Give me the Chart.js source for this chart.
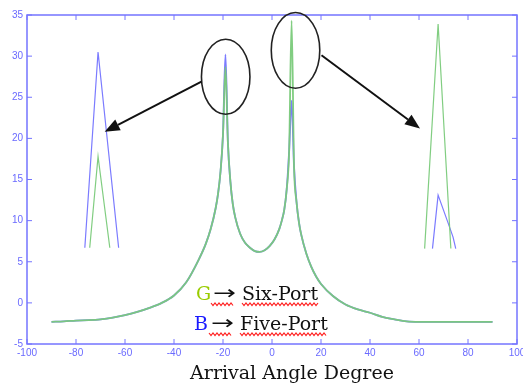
<!DOCTYPE html>
<html>
<head>
<meta charset="utf-8">
<script src="https://cdn.jsdelivr.net/npm/chart.js@4/dist/chart.umd.min.js"></script>
<style>
    html, body { margin: 0; padding: 0; background: #ffffff; }
    canvas { display: block; }
</style>
</head>
<body>
<canvas id="grafico" width="523" height="385"></canvas>
<script>
// =====================================================
// DADOS DO GRÁFICO
// =====================================================

const angulos = [-90, -85, -80, -75, -70, -65, -60, -55, -50, -45, -40, -35, -30, -27, -25, -23, -22, -21, -20, -19,
    -18, -17, -16, -15, -13, -11, -9, -7, -5, -3, -1, 1, 3, 4, 5, 6, 7, 8, 9, 10,
    11, 12, 14, 16, 18, 20, 25, 30, 35, 40, 45, 50, 55, 60, 65, 70, 75, 80, 85, 90];

// G -> Six-Port
const espectroSeisPortas = [-2.3, -2.25, -2.15, -2.1, -2.0, -1.8, -1.5, -1.1, -0.6, 0.0, 0.9, 2.5, 5.2, 7.2, 9.0, 11.5, 13.3, 16.0, 20.5, 28.7,
    19.5, 14.8, 12.0, 10.4, 8.4, 7.3, 6.7, 6.3, 6.2, 6.4, 6.9, 7.7, 9.0, 10.0, 11.3, 13.8, 18.5, 34.3, 16.5, 12.3,
    9.8, 8.2, 6.0, 4.4, 3.2, 2.3, 0.8, -0.2, -0.8, -1.2, -1.7, -2.0, -2.25, -2.3, -2.3, -2.3, -2.3, -2.3, -2.3, -2.3];

// B -> Five-Port
const espectroCincoPortas = [-2.3, -2.25, -2.15, -2.1, -2.0, -1.8, -1.5, -1.1, -0.6, 0.0, 0.9, 2.5, 5.2, 7.2, 9.0, 11.5, 13.3, 16.0, 20.5, 30.2,
    19.5, 14.8, 12.0, 10.4, 8.4, 7.3, 6.7, 6.3, 6.2, 6.4, 6.9, 7.7, 9.0, 10.0, 11.3, 13.8, 18.5, 24.6, 16.5, 12.3,
    9.8, 8.2, 6.0, 4.4, 3.2, 2.3, 0.8, -0.2, -0.8, -1.2, -1.7, -2.0, -2.25, -2.3, -2.3, -2.3, -2.3, -2.3, -2.3, -2.3];

// Ampliações dos picos (esquerda: pico em -19, direita: pico em 8)
const zoomEsqCincoX = [-76.4, -71, -62.6];
const zoomEsqCincoY = [6.7, 30.5, 6.7];
const zoomEsqSeisX = [-74.4, -71, -66.2];
const zoomEsqSeisY = [6.7, 17.8, 6.7];
const zoomDirSeisX = [62.3, 67.8, 73];
const zoomDirSeisY = [6.6, 33.9, 6.6];
const zoomDirCincoX = [65.5, 67.8, 71.9, 73.9, 75];
const zoomDirCincoY = [6.6, 13.1, 9.7, 8.0, 6.6];

const ticksX = [-100, -80, -60, -40, -20, 0, 20, 40, 60, 80, 100];
const ticksY = [-5, 0, 5, 10, 15, 20, 25, 30, 35];

// Anotações (centro x, centro y, raio x, raio y) em unidades do gráfico
const elipses = [
    [-18.9, 27.5, 9.9, 4.56],
    [9.6, 30.7, 9.9, 4.6]
];
// Setas (x0, y0, x1, y1) em unidades do gráfico
const setas = [
    [-28.8, 26.9, -68.3, 20.8],
    [20.2, 30.1, 60.4, 21.2]
];

// =====================================================
// CONFIGURAÇÕES
// =====================================================

const CORES = {
    verde: 'rgba(122, 202, 122, 0.95)',
    azul: '#7b7bff',
    eixo: '#7474ff',
    rotulo: '#6a6aff'
};

function juntar(xs, ys) {
    return xs.map((x, i) => ({ x: x, y: ys[i] }));
}

function serie(xs, ys, cor, largura, ordem, suave) {
    return {
        data: juntar(xs, ys),
        showLine: true,
        borderColor: cor,
        borderWidth: largura,
        pointRadius: 0,
        fill: false,
        order: ordem,
        cubicInterpolationMode: suave ? 'monotone' : 'default',
        tension: 0
    };
}

/**
 * Desenha eixos, ticks, anotações e textos
 */
const pluginDecoracao = {
    id: 'decoracao',
    afterDraw(chart) {
        const ctx = chart.ctx;
        const a = chart.chartArea;
        const sx = chart.scales.x;
        const sy = chart.scales.y;

        ctx.save();

        // caixa do eixo
        ctx.strokeStyle = CORES.eixo;
        ctx.lineWidth = 1.5;
        ctx.strokeRect(a.left, a.top, a.right - a.left, a.bottom - a.top);

        // ticks internos (estilo MATLAB)
        ctx.lineWidth = 1;
        ctx.beginPath();
        ticksX.forEach(v => {
            const px = sx.getPixelForValue(v);
            ctx.moveTo(px, a.bottom); ctx.lineTo(px, a.bottom - 5);
            ctx.moveTo(px, a.top); ctx.lineTo(px, a.top + 5);
        });
        ticksY.forEach(v => {
            const py = sy.getPixelForValue(v);
            ctx.moveTo(a.left, py); ctx.lineTo(a.left + 5, py);
            ctx.moveTo(a.right, py); ctx.lineTo(a.right - 5, py);
        });
        ctx.stroke();

        // rótulos dos ticks
        ctx.fillStyle = CORES.rotulo;
        ctx.font = '10px "Liberation Sans", Arial, sans-serif';
        ctx.textAlign = 'center';
        ctx.textBaseline = 'middle';
        ticksX.forEach(v => {
            ctx.fillText(String(v), sx.getPixelForValue(v), a.bottom + 9);
        });
        ctx.textAlign = 'right';
        ticksY.forEach(v => {
            ctx.fillText(String(v), a.left - 4, sy.getPixelForValue(v));
        });

        // elipses
        ctx.strokeStyle = '#222222';
        ctx.lineWidth = 1.6;
        elipses.forEach(e => {
            const cx = sx.getPixelForValue(e[0]);
            const cy = sy.getPixelForValue(e[1]);
            const rx = Math.abs(sx.getPixelForValue(e[0] + e[2]) - cx);
            const ry = Math.abs(sy.getPixelForValue(e[1] + e[3]) - cy);
            ctx.beginPath();
            ctx.ellipse(cx, cy, rx, ry, 0, 0, Math.PI * 2);
            ctx.stroke();
        });

        // setas
        setas.forEach(s => {
            const x0 = sx.getPixelForValue(s[0]);
            const y0 = sy.getPixelForValue(s[1]);
            const x1 = sx.getPixelForValue(s[2]);
            const y1 = sy.getPixelForValue(s[3]);
            desenharSeta(ctx, x0, y0, x1, y1);
        });

        // legenda manual
        desenharLegenda(ctx, 'G', '#99cc00', 'Six-Port', 196, 300);
        desenharLegenda(ctx, 'B', '#1a1aff', 'Five-Port', 194, 330);

        // título do eixo x
        ctx.fillStyle = '#111111';
        ctx.font = '19px "DejaVu Serif", serif';
        ctx.textAlign = 'center';
        ctx.textBaseline = 'alphabetic';
        ctx.fillText('Arrival Angle Degree', 292, 379);

        ctx.restore();
    }
};

function desenharSeta(ctx, x0, y0, x1, y1) {
    const ang = Math.atan2(y1 - y0, x1 - x0);
    const comp = 15;
    const larg = 6;
    const bx = x1 - comp * Math.cos(ang);
    const by = y1 - comp * Math.sin(ang);
    ctx.strokeStyle = '#111111';
    ctx.fillStyle = '#111111';
    ctx.lineWidth = 2;
    ctx.beginPath();
    ctx.moveTo(x0, y0);
    ctx.lineTo(bx, by);
    ctx.stroke();
    ctx.beginPath();
    ctx.moveTo(x1, y1);
    ctx.lineTo(bx + larg * Math.sin(ang), by - larg * Math.cos(ang));
    ctx.lineTo(bx - larg * Math.sin(ang), by + larg * Math.cos(ang));
    ctx.closePath();
    ctx.fill();
}

function ondulado(ctx, xIni, xFim, y) {
    ctx.beginPath();
    let alto = true;
    ctx.moveTo(xIni, y);
    for (let x = xIni + 2; x <= xFim; x += 2) {
        ctx.lineTo(x, alto ? y + 2.5 : y);
        alto = !alto;
    }
    ctx.stroke();
}

function desenharLegenda(ctx, letra, corLetra, texto, x, base) {
    ctx.textAlign = 'left';
    ctx.textBaseline = 'alphabetic';
    ctx.font = '19px "DejaVu Serif", serif';
    ctx.fillStyle = corLetra;
    ctx.fillText(letra, x, base);

    // seta longa
    const xSeta = x + 17;
    ctx.save();
    ctx.font = '19px "DejaVu Sans", sans-serif';
    const w = ctx.measureText('\u2192').width;
    ctx.translate(xSeta, base - 1);
    ctx.scale(23 / w, 1);
    ctx.fillStyle = '#111111';
    ctx.fillText('\u2192', 0, 0);
    ctx.restore();

    const xTexto = x + 46;
    ctx.fillStyle = '#111111';
    ctx.fillText(texto, xTexto, base);
    const wTexto = ctx.measureText(texto).width;

    ctx.strokeStyle = '#ff2020';
    ctx.lineWidth = 1.2;
    ondulado(ctx, xSeta - 2, xSeta + 20, base + 3);
    ondulado(ctx, xTexto, xTexto + wTexto, base + 3);
}

// =====================================================
// CRIAÇÃO DO GRÁFICO
// =====================================================

function criarGrafico() {
    const ctx = document.getElementById('grafico');
    new Chart(ctx, {
        type: 'scatter',
        data: {
            datasets: [
                serie(angulos, espectroSeisPortas, CORES.verde, 1.8, 0, true),
                serie(angulos, espectroCincoPortas, CORES.azul, 1.8, 1, true),
                serie(zoomEsqCincoX, zoomEsqCincoY, CORES.azul, 1.2, 2, false),
                serie(zoomEsqSeisX, zoomEsqSeisY, CORES.verde, 1.2, 2, false),
                serie(zoomDirSeisX, zoomDirSeisY, CORES.verde, 1.2, 2, false),
                serie(zoomDirCincoX, zoomDirCincoY, CORES.azul, 1.2, 2, false)
            ]
        },
        options: {
            responsive: false,
            animation: false,
            layout: { padding: { left: 27, right: 6, top: 15, bottom: 41 } },
            plugins: { legend: { display: false }, tooltip: { enabled: false } },
            scales: {
                x: { type: 'linear', min: -100, max: 100, display: false },
                y: { type: 'linear', min: -5, max: 35, display: false }
            }
        },
        plugins: [pluginDecoracao]
    });
}

criarGrafico();
</script>
</body>
</html>
